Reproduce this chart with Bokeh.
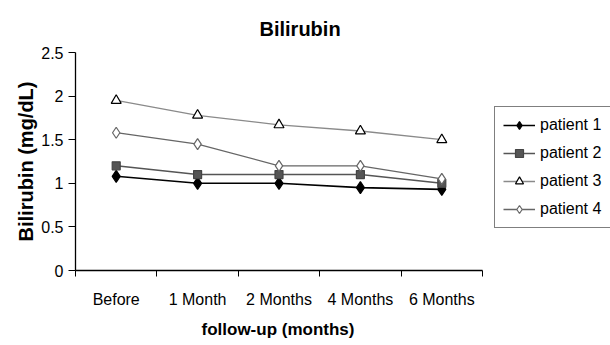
from bokeh.plotting import figure
from bokeh.models import (Range1d, FixedTicker, CustomJSTickFormatter, Legend,
                          LegendItem, Title)
from bokeh.embed import file_html
from bokeh.resources import INLINE

# Follow-up time points and serum bilirubin (mg/dL) per patient
categories = ["Before", "1 Month", "2 Months", "4 Months", "6 Months"]
patient_1 = [1.08, 1.00, 1.00, 0.95, 0.93]
patient_2 = [1.20, 1.10, 1.10, 1.10, 1.00]
patient_3 = [1.95, 1.78, 1.67, 1.60, 1.50]
patient_4 = [1.58, 1.45, 1.20, 1.20, 1.05]
series_names = ["patient 1", "patient 2", "patient 3", "patient 4"]
y_ticks = [0, 0.5, 1, 1.5, 2, 2.5]

FONT = "Liberation Sans"
W, H = 610, 345
LEFT, AXIS_RIGHT = 75, 482          # pixel span of the category axis

# category centres sit half-way between the boundary tick marks
n = len(categories)
xs = [i + 0.5 for i in range(n)]
boundaries = list(range(n + 1))
# the frame runs to the right edge so the legend can sit beside the axis
x_end = n * (W - LEFT) / (AXIS_RIGHT - LEFT)

p = figure(width=W, height=H, output_backend="svg", toolbar_location=None,
           x_range=Range1d(0, x_end), y_range=Range1d(0, 2.5),
           min_border_left=LEFT, min_border_right=0, min_border_top=52,
           min_border_bottom=74)
p.outline_line_color = None
p.xgrid.visible = False
p.ygrid.visible = False
p.background_fill_color = "white"
p.border_fill_color = "white"

p.title = Title(text="Bilirubin", align="left", offset=184,
                text_font=FONT, text_font_size="20px", text_font_style="bold",
                text_color="black", standoff=26)

# x axis: labels at category centres, tick marks on the boundaries
xa = p.xaxis[0]
xa.bounds = (0, n)
xa.ticker = FixedTicker(ticks=xs, minor_ticks=boundaries)
xa.major_label_overrides = {x: c for x, c in zip(xs, categories)}
xa.major_tick_out = 0
xa.major_tick_in = 0
xa.minor_tick_out = 6
xa.minor_tick_in = 0
xa.minor_tick_line_color = "black"
xa.axis_line_color = "black"
xa.axis_line_width = 1.3
xa.major_label_text_font = FONT
xa.major_label_text_font_size = "16px"
xa.major_label_text_color = "black"
xa.major_label_standoff = 14

# axis title centred under the category axis rather than the whole frame
p.add_layout(Title(text="follow-up (months)", align="left", offset=126,
                   text_font=FONT, text_font_size="17px",
                   text_font_style="bold", text_color="black", standoff=14),
             "below")

ya = p.yaxis[0]
ya.ticker = FixedTicker(ticks=y_ticks, minor_ticks=[])
ya.formatter = CustomJSTickFormatter(code="return String(Math.round(tick * 10) / 10);")
ya.major_tick_out = 7
ya.major_tick_in = 0
ya.major_tick_line_color = "black"
ya.axis_line_color = "black"
ya.axis_line_width = 1.3
ya.major_label_text_font = FONT
ya.major_label_text_font_size = "16px"
ya.major_label_text_color = "black"
ya.major_label_standoff = 5
ya.axis_label = "Bilirubin (mg/dL)"
ya.axis_label_text_font = FONT
ya.axis_label_text_font_size = "20px"
ya.axis_label_text_font_style = "bold"
ya.axis_label_text_color = "black"
ya.axis_label_standoff = 1

styles = [
    dict(values=patient_1, line="black", lw=1.6, marker="diamond", size=12,
         fill="black", outline="black"),
    dict(values=patient_2, line="#555555", lw=1.5, marker="square", size=8,
         fill="#555555", outline="#444444"),
    dict(values=patient_3, line="#8a8a8a", lw=1.3, marker="triangle", size=10,
         fill="white", outline="black"),
    dict(values=patient_4, line="#666666", lw=1.3, marker="diamond", size=11,
         fill="white", outline="#666666"),
]

items = []
for name, s in zip(series_names, styles):
    ln = p.line(xs, s["values"], line_color=s["line"], line_width=s["lw"])
    sc = p.scatter(xs, s["values"], marker=s["marker"], size=s["size"],
                   fill_color=s["fill"], line_color=s["outline"], line_width=1.2)
    items.append(LegendItem(label=name, renderers=[ln, sc]))

legend = Legend(items=items, location=(419, 42),
                label_text_font=FONT, label_text_font_size="16px",
                label_text_color="black", glyph_width=32, glyph_height=20,
                label_height=20, spacing=8, padding=8, margin=0,
                label_standoff=5, label_width=90,
                border_line_color="black", border_line_width=1.2,
                background_fill_color="white", background_fill_alpha=1.0)
p.add_layout(legend, "center")

open("out.html", "w").write(file_html(p, INLINE))
